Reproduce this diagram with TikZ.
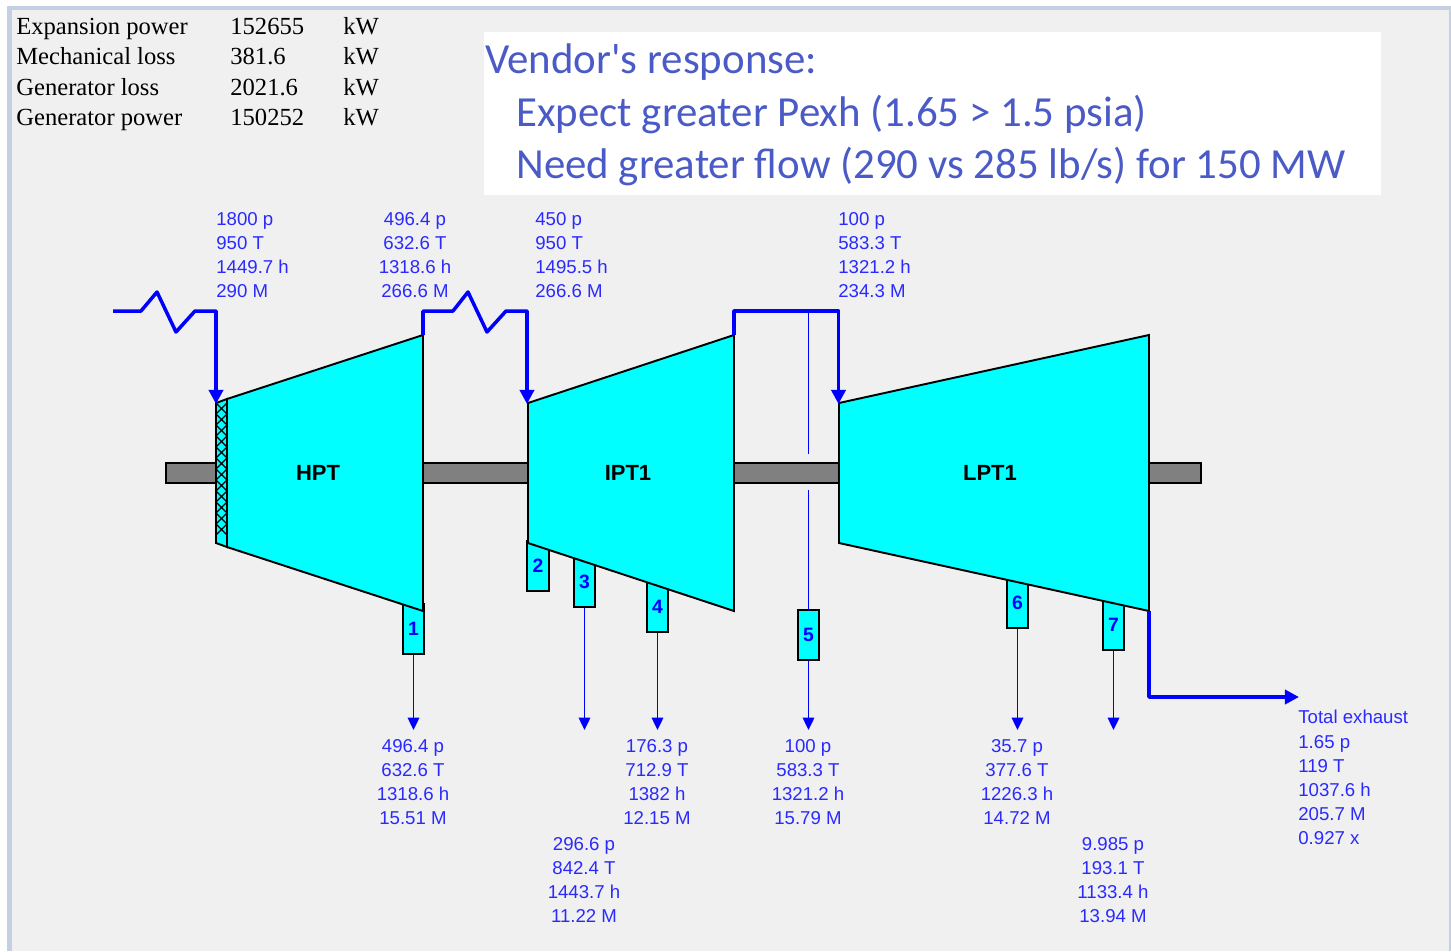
\documentclass[tikz,border=0pt]{standalone}
\usepackage{fontspec}
\setmainfont{Liberation Serif}
\newfontfamily\labelfont{Liberation Sans}
\newfontfamily\notefont{Carlito}
\usetikzlibrary{arrows.meta}
\definecolor{panelgray}{HTML}{F0F0F0}
\definecolor{edgeblue}{HTML}{C5CFE3}
\definecolor{notecolor}{HTML}{4A5AC6}
\definecolor{flowblue}{HTML}{0000FF}
\definecolor{labelblue}{HTML}{2A2AFF}
\definecolor{shaftgray}{HTML}{808080}
\definecolor{casecyan}{HTML}{00FFFF}
\tikzset{
  turbine/.style={draw=black,fill=casecyan,line width=1.1pt,line join=miter},
  mainflow/.style={draw=flowblue,line width=2pt,line join=round},
  mainarrow/.style={mainflow,-{Triangle[width=8pt,length=8pt]}},
  bleedflow/.style={draw=flowblue,line width=1.12pt},
  bleedarrow/.style={bleedflow,-{Triangle[width=6.5pt,length=7pt]}},
  bleedbox/.style={draw=black,fill=casecyan,line width=1.1pt,minimum width=12pt,minimum height=28pt,
    inner sep=0pt,text=flowblue,font=\labelfont\bfseries\fontsize{11}{12}\selectfont},
  statelabel/.style={text=labelblue,inner sep=0pt,font=\labelfont\fontsize{10.6}{13.75}\selectfont},
  powerlabel/.style={anchor=base west,inner sep=0pt,text=black,font=\fontsize{14}{16}\selectfont},
  notelabel/.style={anchor=base west,inner sep=0pt,text=notecolor,font=\notefont\fontsize{24.4}{28}\selectfont},
  stagelabel/.style={inner sep=0pt,text=black,font=\labelfont\bfseries\fontsize{12.5}{14}\selectfont}
}
\begin{document}
\begin{tikzpicture}[x=0.02cm,y=-0.02cm]
  \useasboundingbox (0,0) rectangle (1451,951);
  \fill[white] (0,0) rectangle (1451,951);
  \fill[edgeblue] (7,6) rectangle (1451,951);
  \fill[panelgray] (12,10) rectangle (1449,951);
  % power table
  \foreach \n/\y/\lab/\val in {p1/34/Expansion power/152655,p2/64/Mechanical loss/381.6,
      p3/95/Generator loss/2021.6,p4/125/Generator power/150252} {
    \node[powerlabel] (\n a) at (16,\y) {\lab};
    \node[powerlabel] (\n b) at (230,\y) {\val};
    \node[powerlabel] (\n c) at (343,\y) {kW};
  }
  % vendor note
  \fill[white] (484,32) rectangle (1381,195);
  \node[notelabel] (note1) at (485,73.5) {Vendor's response:};
  \node[notelabel] (note2) at (516,126) {Expect greater Pexh (1.65 > 1.5 psia)};
  \node[notelabel] (note3) at (516,178.5) {Need greater flow (290 vs 285 lb/s) for 150 MW};
  % shaft
  \draw[fill=shaftgray,line width=1.1pt] (166,463) rectangle (1201,483);
  % bleed boxes, under the casings
  \foreach \n/\x/\y in {1/413.5/629,2/538/566,3/584.5/582,4/657.5/607,5/808.5/635,6/1017.5/603,7/1113.5/625} {
    \node[bleedbox] (b\n) at (\x,\y) {\n};
  }
  % casings
  \draw[turbine] (216,403) -- (227,399) -- (227,547) -- (216,543) -- cycle;
  \foreach \y in {403,414,...,532} {
    \draw[line width=0.7pt] (216,\y) -- (227,\y+11) (227,\y) -- (216,\y+11);
  }
  \draw[turbine] (227,399) -- (423,335) -- (423,611) -- (227,547) -- cycle;
  \draw[turbine] (528,403) -- (734,335) -- (734,611) -- (528,543) -- cycle;
  \draw[turbine] (839,403) -- (1149,335) -- (1149,611) -- (839,543) -- cycle;
  \node[stagelabel] (hpt) at (318,473) {HPT};
  \node[stagelabel] (ipt) at (628,473) {IPT1};
  \node[stagelabel] (lpt) at (990,473) {LPT1};
  % flow ends
  \coordinate (feed) at (113,311);
  \coordinate (hptin) at (216,404);
  \coordinate (hptout) at (423,335);
  \coordinate (iptin) at (527,404);
  \coordinate (iptout) at (734,335);
  \coordinate (lptin) at (838.5,404);
  \coordinate (lptout) at (1149,611);
  \coordinate (exhaust) at (1299,697);
  \coordinate (tap) at (808.5,311);
  \coordinate (tapa) at (808.5,454);
  \coordinate (tapb) at (808.5,490);
  % main steam
  \draw[mainarrow] (feed) -- (141,311) -- (157,292) -- (176,332) -- (195,311) -- (216,311) -- (hptin);
  \draw[mainarrow] (hptout) -- (423,311) -- (453,311) -- (468,292) -- (487,332) -- (506,311) -- (527,311) -- (iptin);
  \draw[mainarrow] (iptout) -- (734,311) -- (838.5,311) -- (lptin);
  \draw[mainarrow] (lptout) -- (1149,697) -- (exhaust);
  % bleeds
  \draw[bleedflow] (tap) -- (tapa);
  \draw[bleedflow] (tapb) -- (b5.north);
  \foreach \n/\x in {1/413.5,3/584.5,4/657.5,5/808.5,6/1017.5,7/1113.5} {
    \coordinate (e\n) at (\x,730);
    \draw[bleedarrow] (b\n.south) -- (e\n);
  }
  % state labels
  \node[statelabel,anchor=north west,align=left] (s1) at (216,212) {1800 p\\950 T\\1449.7 h\\290 M};
  \node[statelabel,anchor=north,align=center] (s2) at (415,212) {496.4 p\\632.6 T\\1318.6 h\\266.6 M};
  \node[statelabel,anchor=north west,align=left] (s3) at (535,212) {450 p\\950 T\\1495.5 h\\266.6 M};
  \node[statelabel,anchor=north west,align=left] (s4) at (838,212) {100 p\\583.3 T\\1321.2 h\\234.3 M};
  \node[statelabel,anchor=north,align=center] (s5) at (413,739) {496.4 p\\632.6 T\\1318.6 h\\15.51 M};
  \node[statelabel,anchor=north,align=center] (s6) at (584,837) {296.6 p\\842.4 T\\1443.7 h\\11.22 M};
  \node[statelabel,anchor=north,align=center] (s7) at (657,739) {176.3 p\\712.9 T\\1382 h\\12.15 M};
  \node[statelabel,anchor=north,align=center] (s8) at (808,739) {100 p\\583.3 T\\1321.2 h\\15.79 M};
  \node[statelabel,anchor=north,align=center] (s9) at (1017,739) {35.7 p\\377.6 T\\1226.3 h\\14.72 M};
  \node[statelabel,anchor=north,align=center] (s10) at (1113,837) {9.985 p\\193.1 T\\1133.4 h\\13.94 M};
  \node[statelabel,anchor=north west,align=left] (s11) at (1298,710) {Total exhaust\\1.65 p\\119 T\\1037.6 h\\205.7 M\\0.927 x};
\end{tikzpicture}
\end{document}
